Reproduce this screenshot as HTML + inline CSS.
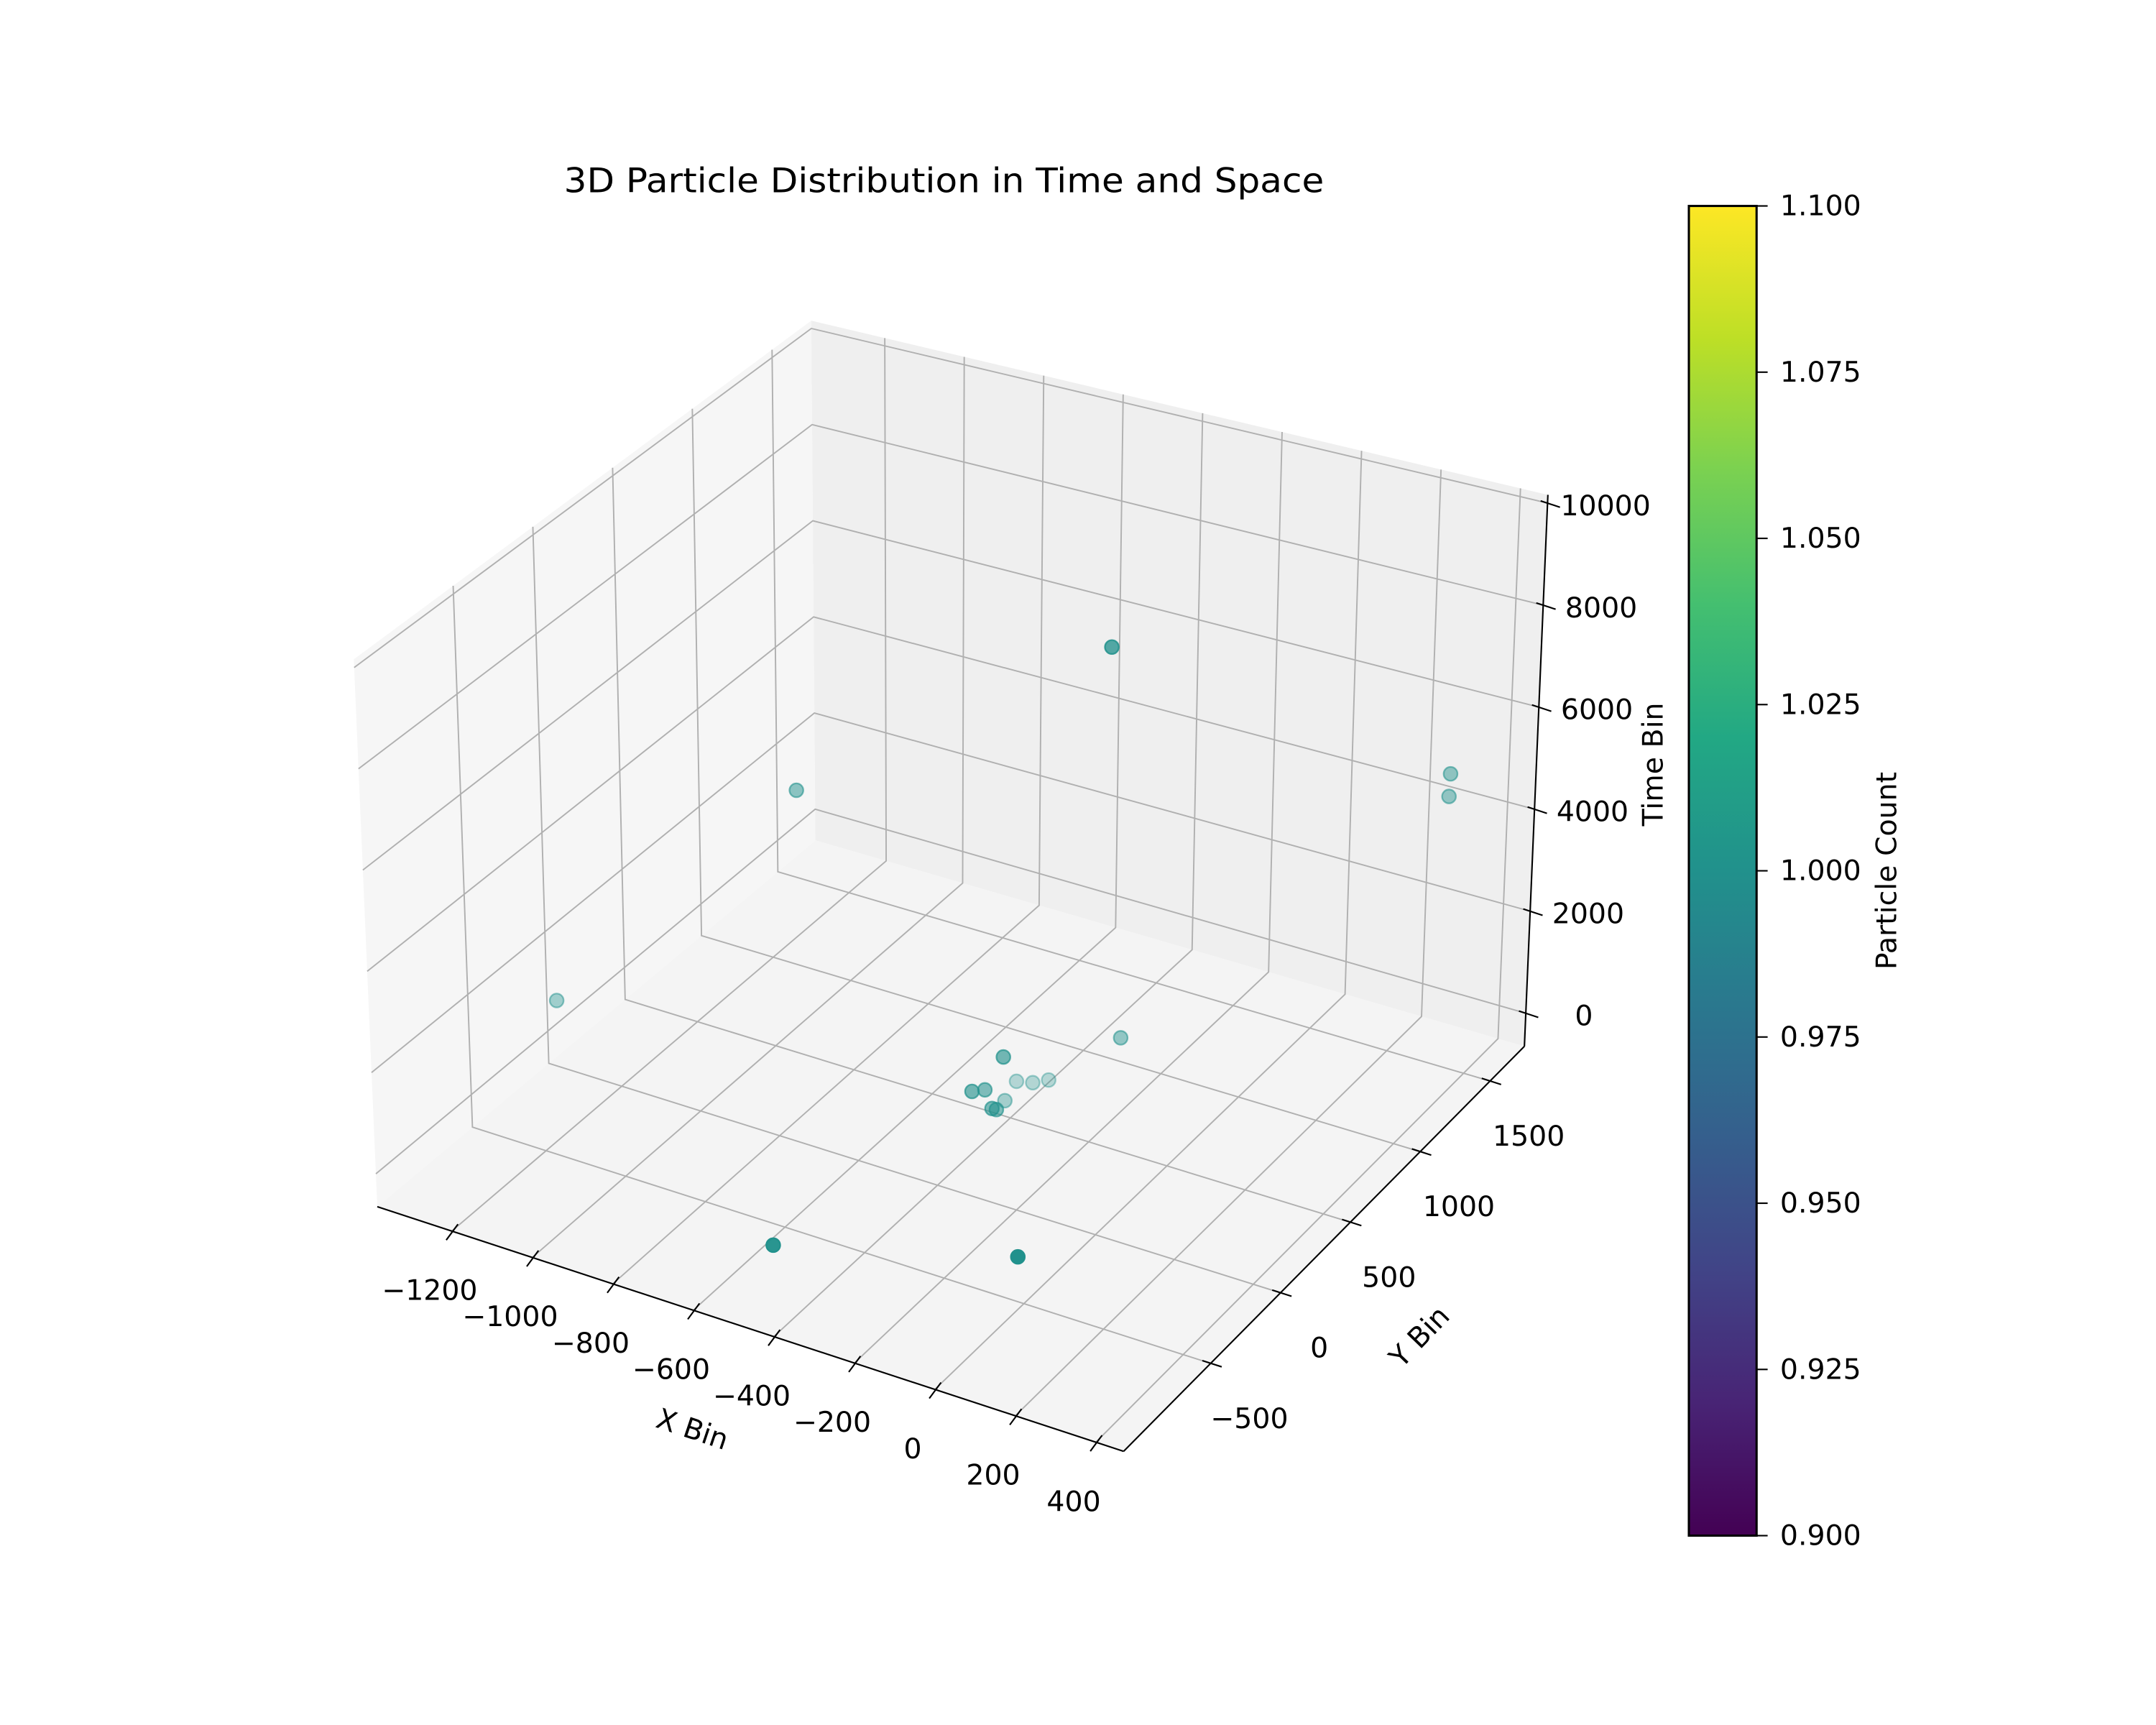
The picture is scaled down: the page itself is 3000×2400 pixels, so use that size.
<!DOCTYPE html>
<html><head><meta charset="utf-8"><title>3D Particle Distribution</title>
<style>html,body{margin:0;padding:0;background:#fff;}svg{display:block;}text{font-family:"DejaVu Sans","Liberation Sans",sans-serif;fill:#000;}</style>
</head><body>
<svg id="chart" xmlns="http://www.w3.org/2000/svg" width="3000" height="2400" viewBox="0 0 1560 1248">
<defs><linearGradient id="viridis" x1="0" y1="1" x2="0" y2="0">
<stop offset="0" stop-color="#440154"/><stop offset="0.1" stop-color="#482475"/><stop offset="0.2" stop-color="#414487"/><stop offset="0.3" stop-color="#355f8d"/><stop offset="0.4" stop-color="#2a788e"/><stop offset="0.5" stop-color="#21918c"/><stop offset="0.6" stop-color="#22a884"/><stop offset="0.7" stop-color="#44bf70"/><stop offset="0.8" stop-color="#7ad151"/><stop offset="0.9" stop-color="#bddf26"/><stop offset="1" stop-color="#fde725"/></linearGradient></defs>
<rect width="1560" height="1248" fill="#fff"/>
<text x="683" y="139" text-anchor="middle" font-size="24.6" textLength="550" lengthAdjust="spacingAndGlyphs">3D Particle Distribution in Time and Space</text>
<g id="panes"></g>
<g id="grid"></g>
<g id="axes"></g>
<g id="points"></g>
<text x="501" y="1041" text-anchor="middle" font-size="20.5" transform="rotate(18.5 501 1034)">X Bin</text>
<text x="1027" y="974" text-anchor="middle" font-size="20.5" transform="rotate(-46 1027 967)">Y Bin</text>
<text x="1196" y="560" text-anchor="middle" font-size="20.5" transform="rotate(-90 1196 553)">Time Bin</text>
<g id="colorbar">
<rect x="1222" y="149" width="49" height="962" fill="url(#viridis)" stroke="#000" stroke-width="1.6"/>
</g>
<text x="1365" y="637" text-anchor="middle" font-size="20.5" transform="rotate(-90 1365 630)">Particle Count</text>
</svg>
<script>
const xVals = [-282, -896, 330, 333, -1267, -160, -313, -354, -354, -396, -362, -337, -378, -323, -323, -516, -37];
const yVals = [847, 387, 1525, 1511, -234, 606, 215, 112, 200, 530, 550, 592, 402, 165, 195, -805, -440];
const zVals = [8000, 5000, 5000, 4600, 1500, 1200, 1500, 1000, 800, 0, 0, 0, 0, 600, 500, 0, 0];
const counts = [1, 1, 1, 1, 1, 1, 1, 1, 1, 1, 1, 1, 1, 1, 1, 1, 1];
const xTicks = [-1200, -1000, -800, -600, -400, -200, 0, 200, 400];
const yTicks = [-500, 0, 500, 1000, 1500];
const zTicks = [0, 2000, 4000, 6000, 8000, 10000];
const cbTicks = [0.900, 0.925, 0.950, 0.975, 1.000, 1.025, 1.050, 1.075, 1.100];

const XR=[-1385,469], YR=[-1123,1746], ZR=[-649,10162];
const C={p000:[273,873],p100:[813,1050],p010:[590,608],p110:[1103,757],p001:[256,477],p101:[816,631],p011:[587,232],p111:[1120,358]};
const NS='http://www.w3.org/2000/svg';
function nu(x){return (x-XR[0])/(XR[1]-XR[0]);}
function nv(y){return (y-YR[0])/(YR[1]-YR[0]);}
function nw(z){return (z-ZR[0])/(ZR[1]-ZR[0]);}
function tri(u,v,w){
  const r=[0,0];
  for(const k in C){const a=+k[1],b=+k[2],c=+k[3];
    const wt=(a?u:1-u)*(b?v:1-v)*(c?w:1-w);
    r[0]+=wt*C[k][0];r[1]+=wt*C[k][1];}
  return r;}
function proj(x,y,z){return tri(nu(x),nv(y),nw(z));}
function mk(tag,attrs,parent){const e=document.createElementNS(NS,tag);for(const k in attrs)e.setAttribute(k,attrs[k]);parent.appendChild(e);return e;}
function poly(pts){return pts.map(p=>p[0].toFixed(2)+','+p[1].toFixed(2)).join(' ');}

const panes=document.getElementById('panes');
let el;
el=mk('polygon',{points:poly([C.p000,C.p010,C.p011,C.p001]),fill:'#f6f6f6'},panes);


el=mk('polygon',{points:poly([C.p010,C.p110,C.p111,C.p011]),fill:'#efefef'},panes);


el=mk('polygon',{points:poly([C.p000,C.p100,C.p110,C.p010]),fill:'#f4f4f4'},panes);



const grid=document.getElementById('grid');
function gline(pts,name){const e=mk('polyline',{points:poly(pts),fill:'none',stroke:'#b0b0b0','stroke-width':1},grid);
  
  }
xTicks.forEach(t=>gline([proj(t,YR[0],ZR[0]),proj(t,YR[1],ZR[0]),proj(t,YR[1],ZR[1])],'x-gridline'));
yTicks.forEach(t=>gline([proj(XR[1],t,ZR[0]),proj(XR[0],t,ZR[0]),proj(XR[0],t,ZR[1])],'y-gridline'));
zTicks.forEach(t=>gline([proj(XR[0],YR[0],t),proj(XR[0],YR[1],t),proj(XR[1],YR[1],t)],'z-gridline'));

const axes=document.getElementById('axes');
function aline(a,b,name){const e=mk('line',{x1:a[0],y1:a[1],x2:b[0],y2:b[1],stroke:'#000','stroke-width':1.1},axes);
  
  }
function label(x,y,txt,anchor,name){const e=mk('text',{x:x,y:y,'text-anchor':anchor,'font-size':20.5,'dominant-baseline':'central'},axes);e.textContent=txt;
  
  }
function fmt(v){return v<0?'\u2212'+Math.abs(v):String(v);}
aline(C.p000,C.p100,'x-axis-line');
aline(C.p100,C.p110,'y-axis-line');
aline(C.p110,C.p111,'z-axis-line');
xTicks.forEach(t=>{const p=proj(t,YR[0],ZR[0]);
  aline([p[0]-4,p[1]+6.5],[p[0]+4.5,p[1]-5],'x-tick');
  label(p[0]-16,p[1]+43,fmt(t),'middle','x-tick-label');});
yTicks.forEach(t=>{const p=proj(XR[1],t,ZR[0]);
  aline([p[0]-6,p[1]-2],[p[0]+8,p[1]+2.5],'y-tick');
  label(p[0]+28,p[1]+40,fmt(t),'middle','y-tick-label');});
zTicks.forEach(t=>{const p=proj(XR[1],YR[1],t);
  aline([p[0]-5,p[1]-1.6],[p[0]+9,p[1]+3],'z-tick');
  label(p[0]+42,p[1]+2,fmt(t),'middle','z-tick-label');});

const pts=document.getElementById('points');
const close=xVals.map((x,i)=>0.433*(nu(x)-0.5)-0.75*(nv(yVals[i])-0.5)+0.375*(nw(zVals[i])-0.5));
const cmin=Math.min(...close),cmax=Math.max(...close);
const order=close.map((c,i)=>i).sort((a,b)=>close[a]-close[b]);
order.forEach(i=>{const p=proj(xVals[i],yVals[i],zVals[i]);
  const a=0.3+0.7*(close[i]-cmin)/(cmax-cmin||1);
  const col=counts[i]>=1?'#21918c':'#440154';
  const c=mk('circle',{cx:p[0].toFixed(2),cy:p[1].toFixed(2),r:5,fill:col,'fill-opacity':a,stroke:col,'stroke-opacity':Math.min(1,a+0.1),'stroke-width':1.2},pts);
  
  });

const cb=document.getElementById('colorbar');
cbTicks.forEach(t=>{const y=1111-(t-0.9)/0.2*962;
  const l=mk('line',{x1:1271,y1:y,x2:1279,y2:y,stroke:'#000','stroke-width':1.1},cb);
  
  
  const tx=mk('text',{x:1288,y:y,'font-size':20.5,'dominant-baseline':'central'},cb);tx.textContent=t.toFixed(3);
  
  });
</script>
</body></html>
